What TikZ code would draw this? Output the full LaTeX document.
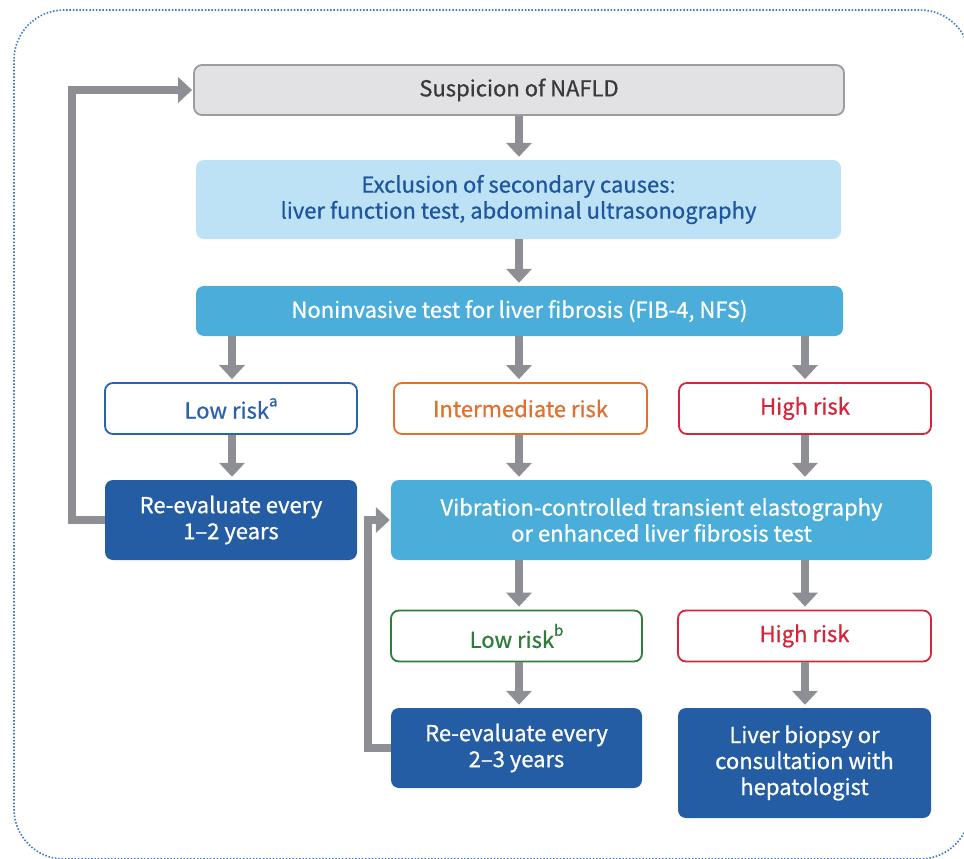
\documentclass[tikz,border=0pt]{standalone}
\usepackage{fontspec}
\setmainfont{Noto Sans CJK KR}[FakeBold=0.8]
\usetikzlibrary{arrows.meta}

\definecolor{frameblue}{HTML}{3A78C6}
\definecolor{arrowgray}{HTML}{8E8F94}
\definecolor{startfill}{HTML}{E2E2E4}
\definecolor{startline}{HTML}{9B9CA0}
\definecolor{starttext}{HTML}{3A3A3C}
\definecolor{paleblue}{HTML}{BDE2F5}
\definecolor{paletext}{HTML}{1F56A0}
\definecolor{midblue}{HTML}{4BADD9}
\definecolor{deepblue}{HTML}{245DA3}
\definecolor{lowblue}{HTML}{2A62AD}
\definecolor{midorange}{HTML}{E2702E}
\definecolor{highred}{HTML}{D3263A}
\definecolor{lowgreen}{HTML}{2E7D3B}

\tikzset{
  box/.style={rectangle, rounded corners=8pt, inner sep=0pt, align=center,
    font=\fontsize{22}{26}\selectfont},
  startbox/.style={box, fill=startfill, draw=startline, line width=1.8pt, text=starttext},
  palebox/.style={box, fill=paleblue, text=paletext},
  midbox/.style={box, fill=midblue, text=white},
  deepbox/.style={box, fill=deepblue, text=white},
  riskbox/.style={box, fill=white, line width=1.8pt, draw=#1, text=#1},
  flow/.style={draw=arrowgray, line width=8pt,
    -{Triangle[width=25pt, length=14pt]}, shorten >=3pt},
  loopflow/.style={flow, shorten >=1pt},
}
\newcommand{\supmark}[1]{\raisebox{0.55em}{\fontsize{15}{15}\selectfont #1}}

\begin{document}
\begin{tikzpicture}[x=1pt, y=-1pt]
  \useasboundingbox (0,0) rectangle (964,859);
  \clip (0,0) rectangle (964,859);

  % dotted outer frame
  \draw[frameblue, line width=1.6pt, dash pattern=on 1.5pt off 1.8pt,
        rounded corners=50pt] (14,10) rectangle (970,859);

  % main column
  \node[startbox, minimum width=650pt, minimum height=50pt] (susp) at (519,90)
    {Suspicion of NAFLD};
  \node[palebox, minimum width=645pt, minimum height=79pt] (excl) at (518.5,199.5)
    {Exclusion of secondary causes:\\liver function test, abdominal ultrasonography};
  \node[midbox, minimum width=647pt, minimum height=50pt] (nit) at (519.5,311)
    {Noninvasive test for liver fibrosis (FIB-4, NFS)};

  % first risk row
  \node[riskbox=lowblue, minimum width=252pt, minimum height=51pt] (lowa) at (231,408.5)
    {Low risk\supmark{a}};
  \node[riskbox=midorange, minimum width=253pt, minimum height=51pt] (mid) at (520.5,408.5)
    {Intermediate risk};
  \node[riskbox=highred, minimum width=252pt, minimum height=51pt] (higha) at (805,408.5)
    {High risk};

  % follow-up row
  \node[deepbox, minimum width=252pt, minimum height=80pt] (reevA) at (231,520)
    {Re-evaluate every\\1–2 years};
  \node[midbox, minimum width=541pt, minimum height=80pt] (vcte) at (661.5,520)
    {Vibration-controlled transient elastography\\or enhanced liver fibrosis test};

  % second risk row
  \node[riskbox=lowgreen, minimum width=251pt, minimum height=51pt] (lowb) at (516.5,636)
    {Low risk\supmark{b}};
  \node[riskbox=highred, minimum width=253pt, minimum height=51pt] (highb) at (804.5,636)
    {High risk};

  % final row
  \node[deepbox, minimum width=251pt, minimum height=80pt] (reevB) at (516.5,748)
    {Re-evaluate every\\2–3 years};
  \node[deepbox, minimum width=253pt, minimum height=110pt] (biopsy) at (804.5,763)
    {Liver biopsy or\\consultation with\\hepatologist};

  % arrow columns
  \coordinate (colL) at (232,0);
  \coordinate (colM) at (519,0);
  \coordinate (colR) at (805,0);
  \coordinate (loopA) at (72,0);
  \coordinate (loopB) at (368,0);

  \draw[flow] (susp.south -| colM) -- (excl.north -| colM);
  \draw[flow] (excl.south -| colM) -- (nit.north -| colM);
  \draw[flow] (nit.south -| colL) -- (lowa.north -| colL);
  \draw[flow] (nit.south -| colM) -- (mid.north -| colM);
  \draw[flow] (nit.south -| colR) -- (higha.north -| colR);
  \draw[flow] (lowa.south -| colL) -- (reevA.north -| colL);
  \draw[flow] (mid.south -| colM) -- (vcte.north -| colM);
  \draw[flow] (higha.south -| colR) -- (vcte.north -| colR);
  \draw[flow] (vcte.south -| colM) -- (lowb.north -| colM);
  \draw[flow] (vcte.south -| colR) -- (highb.north -| colR);
  \draw[flow] (lowb.south -| colM) -- (reevB.north -| colM);
  \draw[flow] (highb.south -| colR) -- (biopsy.north -| colR);

  % feedback loops
  \draw[loopflow] (reevA.west) -| (loopA |- susp.west) -- (susp.west);
  \draw[loopflow] (reevB.west) -| (loopB |- vcte.west) -- (vcte.west);
\end{tikzpicture}
\end{document}
